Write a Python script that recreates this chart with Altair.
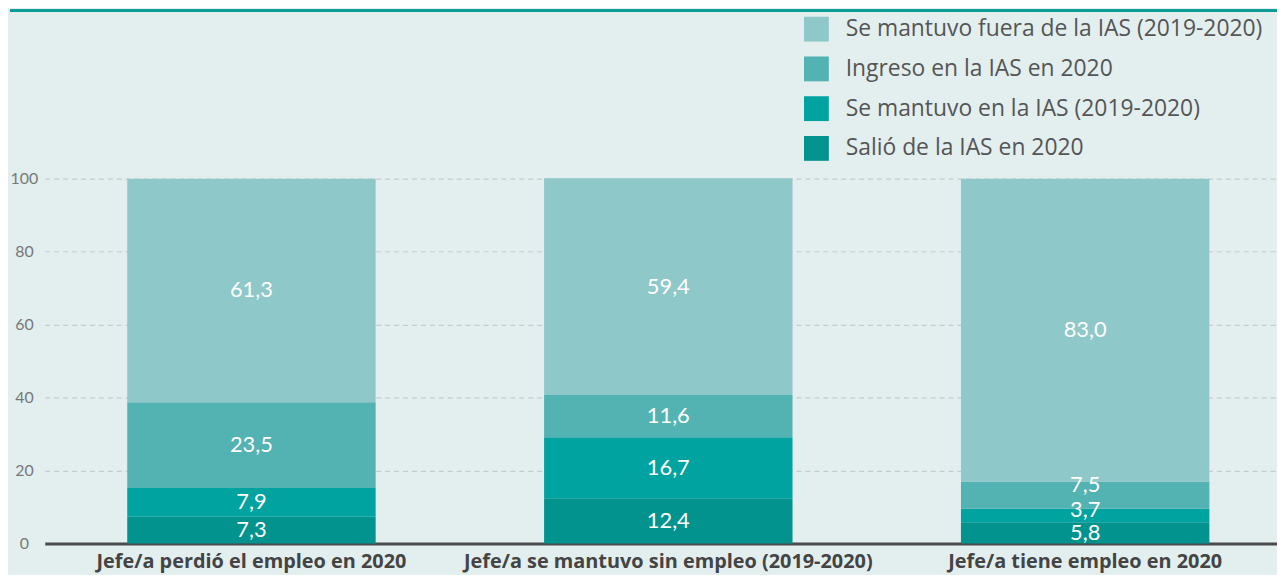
import altair as alt
import pandas as pd

categories = ["Jefe/a perdió el empleo en 2020",
              "Jefe/a se mantuvo sin empleo (2019-2020)",
              "Jefe/a tiene empleo en 2020"]
series = ["Salió de la IAS en 2020",
          "Se mantuvo en la IAS (2019-2020)",
          "Ingreso en la IAS en 2020",
          "Se mantuvo fuera de la IAS (2019-2020)"]
salio = [7.3, 12.4, 5.8]
mantuvo_en = [7.9, 16.7, 3.7]
ingreso = [23.5, 11.6, 7.5]
fuera = [61.3, 59.4, 83.0]
colors = ["#02938e", "#00a3a0", "#53b3b3", "#8ec8c9"]
legend_order = series[::-1]

rows = []
for i, cat in enumerate(categories):
    base = 0.0
    for k, vals in enumerate([salio, mantuvo_en, ingreso, fuera]):
        v = vals[i]
        rows.append({"cat": cat, "serie": series[k], "order": k, "value": v,
                     "y0": base, "y1": base + v, "mid": base + v / 2,
                     "label": f"{v:.1f}".replace(".", ",")})
        base += v
df = pd.DataFrame(rows)

FONT = "Lato"
FONT2 = "Open Sans"
xscale = alt.Scale(domain=categories, paddingInner=0.4, paddingOuter=0.178, align=0.55)

bars = alt.Chart(df).mark_bar(size=250).encode(
    x=alt.X("cat:N", sort=categories, scale=xscale,
            axis=alt.Axis(title=None, labelAngle=0, labelFontSize=20, labelFontWeight="bold",
                          labelColor="#444444", labelPadding=8, ticks=False, labelLimit=0,
                          domainColor="#4a4a4a", domainWidth=3, labelFont=FONT2)),
    y=alt.Y("y0:Q", scale=alt.Scale(domain=[0, 100]),
            axis=alt.Axis(title=None, values=[0, 20, 40, 60, 80, 100], ticks=False, domain=False,
                          labelFontSize=16, labelColor="#777777", labelAlign="center",
                          labelPadding=21, gridColor="#c6cccc", gridDash=[5, 4],
                          gridWidth=1.2, labelFont=FONT)),
    y2="y1:Q",
    color=alt.Color("serie:N", scale=alt.Scale(domain=series, range=colors),
                    legend=alt.Legend(title=None, orient="none", legendX=764, legendY=-163,
                                      values=legend_order, symbolType="square", symbolSize=625,
                                      symbolStrokeWidth=0, labelFontSize=23, labelColor="#555555",
                                      labelFont=FONT2, rowPadding=15, labelOffset=17,
                                      labelLimit=0, symbolOpacity=1)),
    order="order:Q",
)

third = categories[2]


def text_layer(filter_expr, dy):
    return alt.Chart(df).transform_filter(filter_expr).mark_text(
        color="white", fontSize=22, font=FONT, baseline="middle", dy=dy
    ).encode(
        x=alt.X("cat:N", sort=categories, scale=xscale),
        y=alt.Y("mid:Q"),
        text="label:N",
    )


in_third = f"datum.cat == '{third}'"
text_main = text_layer(f"!({in_third} && (datum.order == 1 || datum.order == 2))", 0)
text_mid = text_layer(f"{in_third} && datum.order == 1", -6)
text_up = text_layer(f"{in_third} && datum.order == 2", -10)

topline = alt.Chart(df).mark_rule(color="#0f9a96", strokeWidth=2).encode(
    x=alt.value(-35), x2=alt.value(1240), y=alt.value(-169)
)

chart = alt.layer(bars, text_main, text_mid, text_up, topline).properties(
    width=1240, height=367,
    autosize=alt.AutoSizeParams(type="none"),
    padding={"left": 37, "top": 170, "right": 0, "bottom": 30},
    background="#e3efef",
).configure_view(stroke=None)

chart.save("out.html", embed_options={"renderer": "svg", "actions": False})
